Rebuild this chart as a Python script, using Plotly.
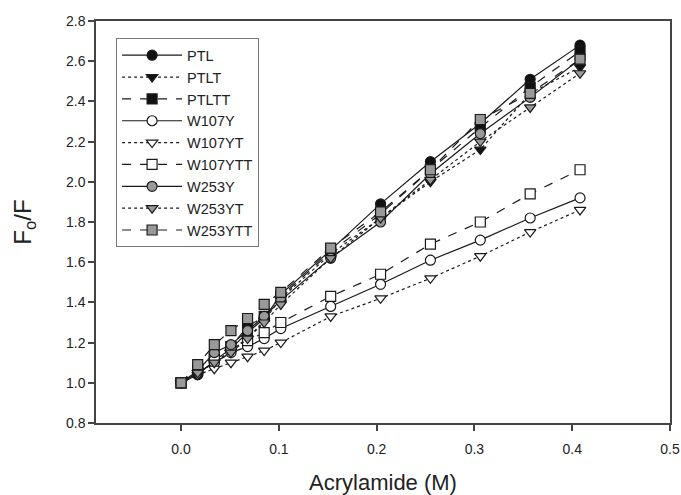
import plotly.graph_objects as go

acrylamide = [0, 0.017, 0.034, 0.051, 0.068, 0.085, 0.102, 0.153, 0.204, 0.255, 0.306, 0.357, 0.408]

ptl     = [1.00, 1.04, 1.11, 1.17, 1.25, 1.32, 1.44, 1.66, 1.89, 2.10, 2.29, 2.51, 2.68]
ptlt    = [1.00, 1.05, 1.10, 1.16, 1.22, 1.31, 1.42, 1.64, 1.82, 2.00, 2.16, 2.44, 2.57]
ptltt   = [1.00, 1.06, 1.12, 1.18, 1.28, 1.33, 1.43, 1.65, 1.84, 2.06, 2.27, 2.47, 2.65]
w107y   = [1.00, 1.05, 1.10, 1.15, 1.18, 1.22, 1.27, 1.38, 1.49, 1.61, 1.71, 1.82, 1.92]
w107yt  = [1.00, 1.04, 1.07, 1.10, 1.13, 1.16, 1.20, 1.33, 1.42, 1.52, 1.63, 1.75, 1.86]
w107ytt = [1.00, 1.07, 1.13, 1.18, 1.21, 1.25, 1.30, 1.43, 1.54, 1.69, 1.80, 1.94, 2.06]
w253y   = [1.00, 1.06, 1.15, 1.19, 1.26, 1.33, 1.41, 1.62, 1.80, 2.04, 2.24, 2.42, 2.61]
w253yt  = [1.00, 1.05, 1.10, 1.15, 1.22, 1.30, 1.39, 1.62, 1.82, 2.01, 2.20, 2.37, 2.54]
w253ytt = [1.00, 1.09, 1.19, 1.26, 1.32, 1.39, 1.45, 1.67, 1.85, 2.06, 2.31, 2.44, 2.61]

series_names = ["PTL", "PTLT", "PTLTT", "W107Y", "W107YT", "W107YTT", "W253Y", "W253YT", "W253YTT"]
series_values = [ptl, ptlt, ptltt, w107y, w107yt, w107ytt, w253y, w253yt, w253ytt]

symbols = ["circle", "triangle-down", "square"] * 3
dashes = ["solid", "dot", "dash"] * 3
fills = ["#111111"] * 3 + ["#ffffff"] * 3 + ["#999999"] * 3

fig = go.Figure()
for name, vals, sym, dash, fill in zip(series_names, series_values, symbols, dashes, fills):
    fig.add_trace(go.Scatter(
        x=acrylamide, y=vals, name=name, mode="lines+markers",
        line=dict(color="#1a1a1a", width=1.2, dash=dash),
        marker=dict(symbol=sym, size=10, color=fill, line=dict(color="#1a1a1a", width=1.2)),
    ))

fig.update_layout(
    width=681, height=495,
    margin=dict(l=96, r=11, t=21, b=72),
    paper_bgcolor="white", plot_bgcolor="white",
    font=dict(family="Liberation Sans, Arial, sans-serif", color="#222222"),
    showlegend=True,
    legend=dict(
        x=0.035, y=0.957, xanchor="left", yanchor="top",
        bordercolor="#777777", borderwidth=1, bgcolor="white",
        font=dict(size=14.5, color="#222222"),
        tracegroupgap=0, itemwidth=60,
    ),
    xaxis=dict(
        range=[-0.087, 0.5], tickvals=[0, 0.1, 0.2, 0.3, 0.4, 0.5],
        ticktext=["0.0", "0.1", "0.2", "0.3", "0.4", "0.5"],
        showgrid=False, zeroline=False, showline=True, linecolor="#444444", linewidth=1.5,
        mirror=True, ticks="outside", ticklen=6, tickcolor="#444444", tickwidth=1.5,
        tickfont=dict(size=14), ticklabelstandoff=6, automargin=False,
        title=dict(text="Acrylamide (M)", font=dict(size=22), standoff=24),
    ),
    yaxis=dict(
        range=[0.8, 2.8], tickvals=[0.8, 1.0, 1.2, 1.4, 1.6, 1.8, 2.0, 2.2, 2.4, 2.6, 2.8],
        ticktext=["0.8", "1.0", "1.2", "1.4", "1.6", "1.8", "2.0", "2.2", "2.4", "2.6", "2.8"],
        showgrid=False, zeroline=False, showline=True, linecolor="#444444", linewidth=1.5,
        mirror=True, ticks="outside", ticklen=6, tickcolor="#444444", tickwidth=1.5,
        tickfont=dict(size=14), automargin=False,
        title=dict(text="F<sub>o</sub>/F", font=dict(size=24), standoff=28),
    ),
)

fig.write_html(
    "out.html",
    config={"displayModeBar": False},
    post_script="document.body.style.margin='0';document.body.style.overflow='hidden';",
)
